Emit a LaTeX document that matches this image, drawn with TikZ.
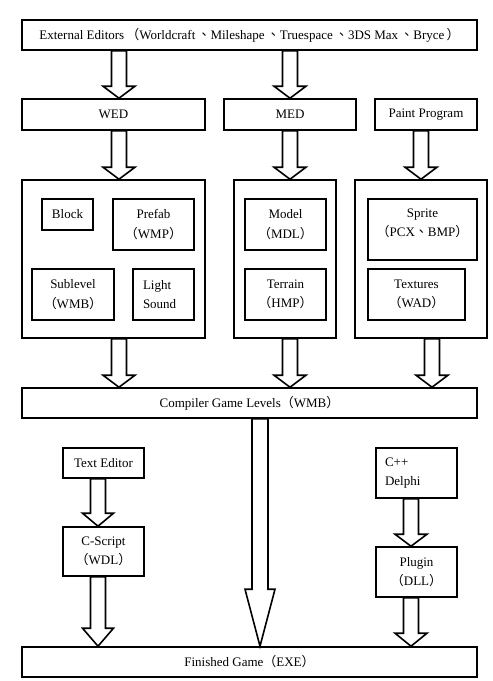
\documentclass[tikz,border=0pt]{standalone}
\usepackage{fontspec}
\setmainfont{Liberation Serif}
\newfontfamily\cjk{Noto Sans CJK TC}
\newcommand\parL{{\cjk （}}
\newcommand\parR{{\cjk ）}}
\newcommand\sepC{{\cjk 、}}
\usepackage{tikz}
\usetikzlibrary{calc, positioning}
\tikzset{arrshaft/.store in=\arrshaft, arrhead/.store in=\arrhead, arrlen/.store in=\arrlen}
\tikzset{blockarrow/.style={draw, fill=white, line width=1.6pt, line join=miter, arrshaft=7.5pt, arrhead=16pt, arrlen=12pt,
  to path={let \p1=(\tikztostart), \p2=(\tikztotarget) in (\x1-\arrshaft,\y1) -- (\x1-\arrshaft,\y2+\arrlen) -- (\x1-\arrhead,\y2+\arrlen) -- (\x1,\y2) -- (\x1+\arrhead,\y2+\arrlen) -- (\x1+\arrshaft,\y2+\arrlen) -- (\x1+\arrshaft,\y1) -- cycle}}}

\begin{document}
\begin{tikzpicture}[x=1pt, y=-1pt, every node/.style={font=\fontsize{13}{19.5}\selectfont}, box/.style={draw, line width=1.6pt, inner sep=0pt, align=center}]
\useasboundingbox (0,0) rectangle (493,681);
\node[box, minimum width=455pt, minimum height=30pt] (ext) at (249.5,35) {External Editors\,\parL Worldcraft\,\sepC Mileshape\,\sepC Truespace\,\sepC 3DS Max\,\sepC Bryce\,\parR};
\node[box, minimum width=183pt, minimum height=31pt] (wed) at (113.5,114.5) {WED};
\node[box, minimum width=132pt, minimum height=31pt] (med) at (290,114.5) {MED};
\node[box, minimum width=102pt, minimum height=31pt] (paint) at (426,114.5) {Paint Program};
\node[box, minimum width=183pt, minimum height=158pt] (grpWed) at (113.5,259) {};
\node[box, minimum width=102pt, minimum height=158pt] (grpMed) at (285,259) {};
\node[box, minimum width=132pt, minimum height=158pt] (grpPaint) at (421,259) {};
\node[box, minimum width=51pt, minimum height=31pt] (block) at (67.5,214.5) {Block};
\node[box, minimum width=81pt, minimum height=51pt] (prefab) at (153.5,224.5) {Prefab\\\parL WMP\parR};
\node[box, minimum width=82pt, minimum height=51pt] (sublevel) at (73,294.5) {Sublevel\\\parL WMB\parR};
\node[box, inner xsep=10pt, text width=41pt, align=left, minimum height=51pt] (light) at (163.5,294.5) {Light\\Sound};
\node[box, minimum width=81pt, minimum height=51pt] (model) at (285.5,224.5) {Model\\\parL MDL\parR};
\node[box, minimum width=81pt, minimum height=51pt] (terrain) at (285.5,294.5) {Terrain\\\parL HMP\parR};
\node[box, minimum width=109pt, minimum height=61pt] (sprite) at (422.5,229.5) {Sprite\\\parL PCX\sepC BMP\parR\\[-6pt]};
\node[box, minimum width=97pt, minimum height=51pt] (textures) at (416.5,294.5) {Textures\\\parL WAD\parR};
\node[box, minimum width=455pt, minimum height=30pt] (compiler) at (249.5,403) {Compiler Game Levels\parL WMB\parR};
\node[box, minimum width=81pt, minimum height=30pt] (texted) at (103.5,463) {Text Editor};
\node[box, minimum width=81pt, minimum height=49pt] (cscript) at (103.5,551.5) {C-Script\\\parL WDL\parR};
\node[box, inner xsep=9pt, text width=63pt, align=left, minimum height=50pt] (cpp) at (416.5,473) {C++\\Delphi};
\node[box, minimum width=81pt, minimum height=50pt] (plugin) at (416.5,572) {Plugin\\\parL DLL\parR};
\node[box, minimum width=455pt, minimum height=30pt] (finished) at (249.5,662) {Finished Game\parL EXE\parR};
\coordinate (colWed) at (119,0);
\coordinate (colMed) at (290,0);
\coordinate (colPaint) at (421,0);
\coordinate (colPaintB) at (432,0);
\coordinate (colMain) at (260,0);
\coordinate (colScript) at (98,0);
\coordinate (colPlugin) at (411,0);
\draw[blockarrow] (ext.south -| colWed) to (wed.north);
\draw[blockarrow] (ext.south -| colMed) to (med.north);
\draw[blockarrow] (wed.south -| colWed) to (grpWed.north);
\draw[blockarrow] (med.south -| colMed) to (grpMed.north);
\draw[blockarrow] (paint.south -| colPaint) to (grpPaint.north);
\draw[blockarrow] (grpWed.south -| colWed) to (compiler.north);
\draw[blockarrow] (grpMed.south -| colMed) to (compiler.north);
\draw[blockarrow] (grpPaint.south -| colPaintB) to (compiler.north);
\draw[blockarrow, arrshaft=8pt, arrhead=15pt, arrlen=57pt] (compiler.south -| colMain) to (finished.north);
\draw[blockarrow, arrhead=15.5pt, arrlen=13pt] (texted.south -| colScript) to (cscript.north);
\draw[blockarrow, arrhead=15.5pt, arrlen=18pt] (cscript.south -| colScript) to (finished.north);
\draw[blockarrow] (cpp.south -| colPlugin) to (plugin.north);
\draw[blockarrow, arrlen=13pt] (plugin.south -| colPlugin) to (finished.north);
\end{tikzpicture}
\end{document}
